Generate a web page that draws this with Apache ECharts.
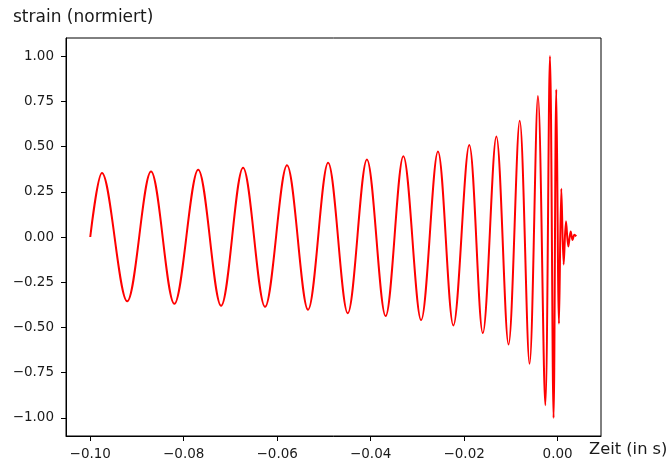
<!DOCTYPE html>
<html>
<head>
<meta charset="utf-8">
<script src="https://cdn.jsdelivr.net/npm/echarts@6/dist/echarts.min.js"></script>
<style>
  html, body { margin: 0; padding: 0; background: #fff; }
  #chart { width: 671px; height: 461px; }
</style>
</head>
<body>
<div id="chart"></div>
<script>
// Gravitational-wave chirp: start, successive peaks/troughs and end of the normalised strain
const time = [
  -0.1000, -0.0975, -0.0921, -0.0870, -0.0820, -0.0769, -0.0720, -0.0673,
  -0.0626, -0.0579, -0.0534, -0.0491, -0.0449, -0.0408, -0.0368, -0.0330,
  -0.0292, -0.0256, -0.0223, -0.0189, -0.0160, -0.0131, -0.0105, -0.0081,
  -0.0060, -0.0042, -0.00263, -0.00163, -0.00086, -0.00028, 0.0003, 0.0008,
  0.0013, 0.0018, 0.0023, 0.0028, 0.0032, 0.0036, 0.0040
];
const strain = [
  0.000, 0.354, -0.355, 0.362, -0.369, 0.372, -0.380, 0.383,
  -0.386, 0.396, -0.402, 0.410, -0.421, 0.429, -0.437, 0.447,
  -0.459, 0.473, -0.489, 0.508, -0.531, 0.556, -0.594, 0.642,
  -0.700, 0.780, -0.930, 1.000, -1.000, 0.815, -0.479, 0.267,
  -0.152, 0.087, -0.053, 0.031, -0.016, 0.013, 0.004
];
const xTicks = [-0.10, -0.08, -0.06, -0.04, -0.02, 0.00];
const yTicks = [-1.00, -0.75, -0.50, -0.25, 0.00, 0.25, 0.50, 0.75, 1.00];

const fmt = v => (v < 0 ? '\u2212' : '') + Math.abs(v).toFixed(2);
const font = 'DejaVu Sans';

const chart = echarts.init(document.getElementById('chart'), null, { renderer: 'canvas' });
chart.setOption({
  animation: false,
  backgroundColor: '#fff',
  grid: {
    left: 66, right: 70, top: 38, bottom: 25,
    show: true, borderColor: '#000', borderWidth: 1, backgroundColor: 'transparent'
  },
  xAxis: {
    type: 'value',
    min: -0.10519, max: 0.00929,
    axisLine: { show: true, onZero: false, lineStyle: { color: '#000', width: 1 } },
    axisTick: { show: true, customValues: xTicks, length: 5, inside: false, lineStyle: { color: '#000' } },
    axisLabel: { customValues: xTicks, formatter: fmt, color: '#1a1a1a', fontFamily: font, fontSize: 13.5, margin: 11 },
    splitLine: { show: false }
  },
  yAxis: {
    type: 'value',
    min: -1.1, max: 1.1,
    axisLine: { show: true, onZero: false, lineStyle: { color: '#000', width: 1 } },
    axisTick: { show: true, customValues: yTicks, length: 5, inside: false, lineStyle: { color: '#000' } },
    axisLabel: { customValues: yTicks, formatter: fmt, color: '#1a1a1a', fontFamily: font, fontSize: 13.5, margin: 12 },
    splitLine: { show: false }
  },
  graphic: [
    { type: 'text', x: 13, y: 18, style: { text: 'strain (normiert)', font: '17px "DejaVu Sans"', fill: '#1a1a1a', verticalAlign: 'middle' } },
    { type: 'text', x: 589, y: 450, style: { text: 'Zeit (in s)', font: '16.3px "DejaVu Sans"', fill: '#1a1a1a', verticalAlign: 'middle' } }
  ],
  series: [{
    type: 'line',
    data: time.map((t, i) => [t, strain[i]]),
    showSymbol: false,
    smooth: 0.34,
    lineStyle: { color: '#ff0000', width: 2 },
    clip: false
  }]
});
</script>
</body>
</html>
